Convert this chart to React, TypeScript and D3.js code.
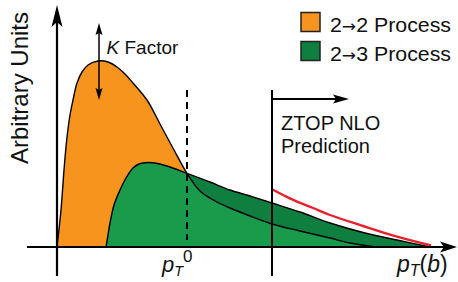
import React from "react";
import * as d3 from "d3";

// Schematic pT spectrum (arbitrary units); x = pT (arb.), y = rate (arb.)
const orangeX = [0, 4, 7, 9.7, 13, 16, 20, 25, 31, 41, 51, 60, 68, 76, 90, 103, 117, 130, 143, 158, 173, 193, 215, 243, 273, 293, 318];
const orangeY = [0, 37, 77, 107, 132, 147, 164, 175, 182, 186, 185, 180, 173, 164, 147, 123, 97, 73.7, 56, 46, 39, 31, 23, 16, 9, 4, 0];
const greenX = [49, 51, 53, 57, 63, 69, 76, 82, 88, 98, 110, 130, 153, 173, 193, 215, 243, 273, 308, 340, 373];
const greenY = [0, 12, 24, 42, 57, 69, 79, 83, 84.3, 84, 81, 73.7, 65, 57, 51, 44, 35, 24, 14, 7, 0];
const redX = [215, 228, 240, 256, 273, 306, 340, 374];
const redY = [57.7, 51, 45.3, 39, 32, 21, 10.3, 1.5];
const pT0 = 130;
const ztopCut = 215;
const legendLabels = [["2", "2 Process"], ["2", "3 Process"]];

const W = 458, H = 282;
const ORANGE = "#F7941D";
const GREEN = "#1A9A4B";
const DKGREEN = "#0E7F3F";
const FONT = "'Liberation Sans', Arial, Helvetica, sans-serif";

export default function App() {
  const x = d3.scaleLinear().domain([0, 400]).range([57, 457]);
  const y = d3.scaleLinear().domain([0, 242]).range([247, 5]);
  const toPts = (xs: number[], ys: number[]) => xs.map((v, i) => [v, ys[i]] as [number, number]);
  const orange = toPts(orangeX, orangeY);
  const green = toPts(greenX, greenY);
  const red = toPts(redX, redY);

  const curve = d3.curveCatmullRom.alpha(0.5);
  const line = d3.line<[number, number]>().x(d => x(d[0])).y(d => y(d[1])).curve(curve);
  const area = d3.area<[number, number]>().x(d => x(d[0])).y0(y(0)).y1(d => y(d[1])).curve(curve);

  const x0 = x(0), xAxisY = y(0);
  const orangeLine = line(orange) as string;
  const clip = orangeLine + `L${x(400)},${xAxisY}L${x(400)},0L${x(-10)},0L${x(-10)},${xAxisY}Z`;

  const arrowUp = (cx: number, tipY: number, len: number, hw: number, notch: number) =>
    `M${cx},${tipY}L${cx + hw},${tipY + len}L${cx},${tipY + len - notch}L${cx - hw},${tipY + len}Z`;
  const arrowDown = (cx: number, tipY: number, len: number, hw: number, notch: number) =>
    `M${cx},${tipY}L${cx + hw},${tipY - len}L${cx},${tipY - len + notch}L${cx - hw},${tipY - len}Z`;
  const arrowRight = (tipX: number, cy: number, len: number, hw: number, notch: number) =>
    `M${tipX},${cy}L${tipX - len},${cy - hw}L${tipX - len + notch},${cy}L${tipX - len},${cy + hw}Z`;

  const xp0 = x(pT0);
  const xz = x(ztopCut);

  return (
    <svg width={W} height={H} style={{ position: "absolute", left: 0, top: 0, background: "#fff" }} fontFamily={FONT}>
      <defs>
        <clipPath id="aboveOrange"><path d={clip} /></clipPath>
      </defs>
      {/* fills */}
      <path d={area(orange) as string} fill={ORANGE} />
      <path d={area(green) as string} fill={GREEN} />
      <path d={area(green) as string} fill={DKGREEN} clipPath="url(#aboveOrange)" />
      {/* outlines */}
      <path d={orangeLine} fill="none" stroke="#000" strokeWidth={1.4} />
      <path d={line(green) as string} fill="none" stroke="#000" strokeWidth={1.4} />
      <path d={line(red) as string} fill="none" stroke="#E8202A" strokeWidth={2.4} />

      {/* pT0 dashed line */}
      <line x1={xp0} x2={xp0} y1={90} y2={240} stroke="#000" strokeWidth={2} strokeDasharray="7,5" />

      {/* axes */}
      <line x1={x0} x2={x0} y1={20} y2={276} stroke="#000" strokeWidth={2.2} />
      <path d={arrowUp(x0, 5, 22, 5.5, 5)} fill="#000" />
      <line x1={27} x2={445} y1={xAxisY} y2={xAxisY} stroke="#000" strokeWidth={2.2} />
      <path d={arrowRight(457, xAxisY, 17, 5.5, 4)} fill="#000" />

      {/* ZTOP cut */}
      <line x1={xz} x2={xz} y1={90} y2={276} stroke="#000" strokeWidth={2} />
      <line x1={xz} x2={340} y1={99} y2={99} stroke="#000" strokeWidth={2} />
      <path d={arrowRight(349, 99, 16, 4.5, 3)} fill="#000" />
      <text x={281} y={130} fontSize={20} fill="#111">ZTOP NLO</text>
      <text x={281} y={153} fontSize={20} fill="#111">Prediction</text>

      {/* K factor arrow */}
      <line x1={99} x2={99} y1={32} y2={92} stroke="#000" strokeWidth={1.5} />
      <path d={arrowUp(99, 23, 12, 3.5, 2)} fill="#000" />
      <path d={arrowDown(99, 100, 12, 3.5, 2)} fill="#000" />
      <text x={106.5} y={54} fontSize={19} fill="#111"><tspan fontStyle="italic">K</tspan> Factor</text>

      {/* y label */}
      <text transform={`translate(28,88) rotate(-90)`} textAnchor="middle" fontSize={24} fill="#111">Arbitrary Units</text>

      {/* x labels */}
      <text x={162} y={272} fontSize={22} fill="#111">
        <tspan fontStyle="italic">p</tspan>
        <tspan fontStyle="italic" fontSize={14.5} dy={4}>T</tspan>
        <tspan fontSize={17} dy={-14}>0</tspan>
      </text>
      <text x={397} y={272} fontSize={23} fill="#111">
        <tspan fontStyle="italic">p</tspan>
        <tspan fontStyle="italic" fontSize={16} dy={4}>T</tspan>
        <tspan dy={-4}>(</tspan>
        <tspan fontStyle="italic">b</tspan>
        <tspan>)</tspan>
      </text>

      {/* legend */}
      {legendLabels.map((lab, i) => (
        <g key={lab.join("")}>
          <rect x={301} y={12.5 + i * 29} width={19} height={19} fill={i === 0 ? ORANGE : DKGREEN} stroke="#222" strokeWidth={1.5} />
          <text x={330} y={31.5 + i * 29} fontSize={20} fill="#111" textLength={121} lengthAdjust="spacingAndGlyphs">
            {lab[0]}<tspan fontFamily="'DejaVu Sans', sans-serif" fontSize={16}>{"\u2192"}</tspan>{lab[1]}
          </text>
        </g>
      ))}
    </svg>
  );
}
